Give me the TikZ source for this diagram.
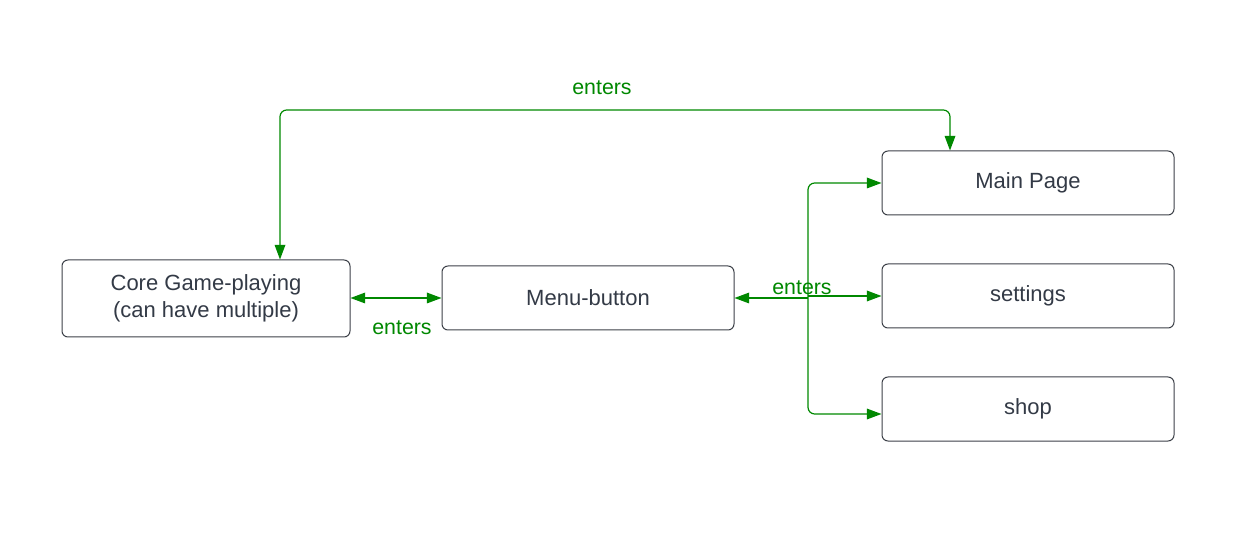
\documentclass[tikz,border=0pt]{standalone}
\usepackage{fontspec}
\setmainfont{Liberation Sans}
\usetikzlibrary{arrows.meta}
\definecolor{lgreen}{RGB}{0,136,0}
\definecolor{ltext}{RGB}{51,58,70}
\definecolor{lborder}{RGB}{60,64,72}
\tikzset{
  box/.style={draw=lborder, line width=0.75pt, rounded corners=4.5pt, fill=white,
    minimum width=219pt, minimum height=48pt, text=ltext, font=\fontsize{16.5}{20}\selectfont, align=center, inner sep=0pt},
  conn/.style={draw=lgreen, line width=0.9pt, rounded corners=5pt, arrows={-Triangle[length=11pt,width=8pt]}},
  lbl/.style={text=lgreen, font=\fontsize{16}{19}\selectfont, inner sep=0pt}
}
\begin{document}
\begin{tikzpicture}[x=0.75pt,y=-0.75pt]
\useasboundingbox (0,0) rectangle (1235,534);
\node[box, minimum width=216pt, minimum height=57.75pt] (core) at (206,298.5) {Core Game-playing\\(can have multiple)};
\node[box] (menu) at (588,298) {Menu-button};
\node[box] (main) at (1028,183) {Main Page};
\node[box] (settings) at (1028,296) {settings};
\node[box] (shop) at (1028,409) {shop};
\coordinate (j) at (808,298);
\coordinate (t1) at (950,110);
\coordinate (t2) at (280,110);
% core <-> menu
\draw[conn, arrows={Triangle[length=11pt,width=8pt]-Triangle[length=11pt,width=8pt]}] (core.east |- menu) -- (menu.west);
\node[lbl] (l1) at (402,328) {enters};
% menu tree
\draw[conn, arrows={Triangle[length=11pt,width=8pt]-}] (menu.east) -- (j);
\draw[conn] (j) |- (main.west);
\draw[conn] (j |- settings.west) -- (settings.west);
\draw[conn] (j) |- ([yshift=-3.75pt]shop.west);
\node[lbl] (l2) at (802,288) {enters};
% top loop
\draw[conn, arrows={Triangle[length=11pt,width=8pt]-Triangle[length=11pt,width=8pt]}] (main.north -| t1) -- (t1) -- (t2) -- (core.north -| t2);
\node[lbl] (l3) at (602,88) {enters};
\end{tikzpicture}
\end{document}
